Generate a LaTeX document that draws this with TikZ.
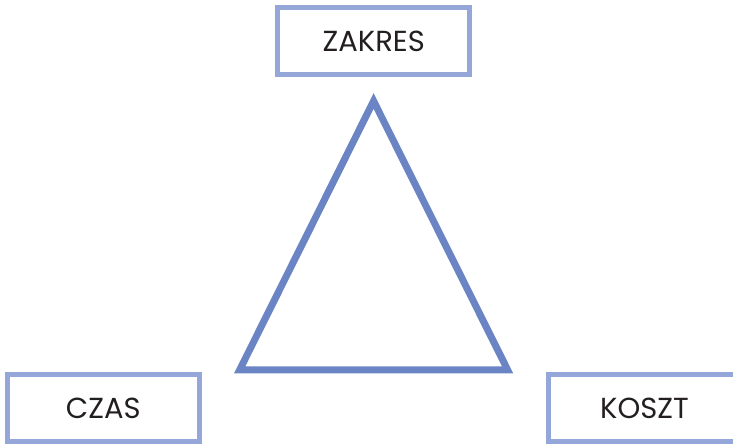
\documentclass[tikz,border=0pt]{standalone}
\usepackage{fontspec}
\setmainfont{Poppins}
\definecolor{framecol}{HTML}{95A6D8}
\definecolor{tricol}{HTML}{6A84C4}
\definecolor{inkcol}{HTML}{231F20}
\begin{document}
\begin{tikzpicture}[x=1pt,y=-1pt,
  labelbox/.style={draw=framecol,line width=5pt,minimum width=192pt,
    minimum height=67pt,inner sep=0pt,text=inkcol,
    font=\fontsize{29}{29}\selectfont}]
\useasboundingbox (0,0) rectangle (733,445);
\clip (0,0) rectangle (733,445);
% the three constraint labels
\node[labelbox] (zakres) at (373.75,41) {ZAKRES};
\node[labelbox] (czas) at (103.25,408) {CZAS};
\node[labelbox] (koszt) at (644.5,408) {KOSZT};
% the triangle between them
\coordinate (top) at (373.6,101);
\coordinate (left) at (239.7,369.8);
\coordinate (right) at (507.6,369.8);
\draw[tricol,line width=7pt,line join=miter] (top) -- (left) -- (right) -- cycle;
\end{tikzpicture}
\end{document}
